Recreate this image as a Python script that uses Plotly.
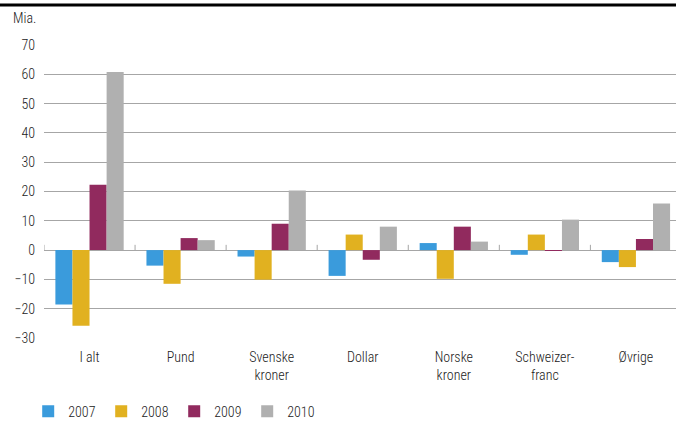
import plotly.graph_objects as go

categories = ["I alt", "Pund", "Svenske<br>kroner", "Dollar", "Norske<br>kroner", "Schweizer-<br>franc", "Øvrige"]
years = ["2007", "2008", "2009", "2010"]
values_2007 = [-18.6, -5.3, -2.2, -8.8, 2.4, -1.6, -4.1]
values_2008 = [-25.8, -11.5, -10.1, 5.3, -9.8, 5.3, -5.8]
values_2009 = [22.3, 4.1, 9.0, -3.3, 8.0, -0.3, 3.8]
values_2010 = [60.8, 3.4, 20.3, 8.0, 2.9, 10.4, 15.9]
colors = ["#3a9bdc", "#e1b120", "#912a5e", "#b0b0b0"]

series = [values_2007, values_2008, values_2009, values_2010]

fig = go.Figure()
for name, vals, col in zip(years, series, colors):
    fig.add_trace(go.Bar(x=categories, y=vals, name=name, marker=dict(color=col, line=dict(width=0))))

# -- small category separator ticks on the zero line
shapes = []
for i in range(len(categories)):
    shapes.append(dict(type="line", xref="x", yref="y", x0=i - 0.5, x1=i - 0.5, y0=0, y1=1.8,
                       line=dict(color="#a6a6a6", width=1)))
# -- black rule at top
shapes.append(dict(type="line", xref="paper", yref="paper", x0=-0.08, x1=1.02, y0=1.1365, y1=1.1365,
                   line=dict(color="black", width=3)))

fig.update_layout(
    barmode="group",
    bargap=0.25,
    bargroupgap=0,
    width=676,
    height=421,
    margin=dict(l=44, r=0, t=45, b=83),
    plot_bgcolor="white",
    paper_bgcolor="white",
    font=dict(family="Roboto Condensed, Liberation Sans Narrow, Roboto", size=14, color="#222222", weight=300),
    shapes=shapes,
    showlegend=True,
    legend=dict(orientation="h", x=-0.025, xanchor="left", yref="container", y=0.022, yanchor="middle",
                entrywidth=28, itemwidth=30, font=dict(size=14)),
    annotations=[dict(text="Mia.", xref="paper", yref="paper", x=-0.052, y=1.092,
                      xanchor="left", yanchor="middle", showarrow=False, font=dict(size=14))],
)
fig.update_yaxes(range=[-30, 70], dtick=10, showgrid=True, gridcolor="#a6a6a6", gridwidth=1,
                 zeroline=True, zerolinecolor="#a6a6a6", zerolinewidth=1, ticks="",
                 ticklabelstandoff=8, automargin=False)
fig.update_xaxes(showgrid=False, ticks="", showline=False, range=[-0.5, 6.44],
                 ticklabelstandoff=9, automargin=False)

# -- drop the default page margin so the figure sits at the window corner
fig.write_html("out.html", config={"displayModeBar": False},
               post_script="document.body.style.margin='0';document.body.style.overflow='hidden';")
